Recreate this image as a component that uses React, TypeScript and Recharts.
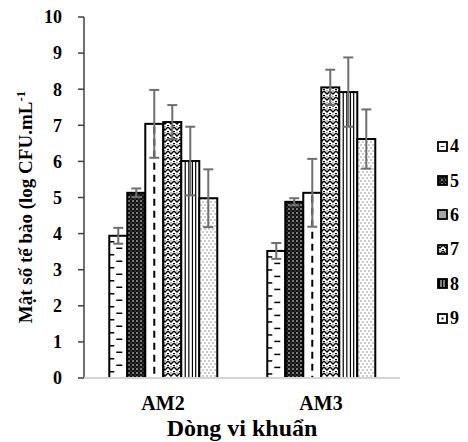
import { BarChart, Bar, XAxis, YAxis, ErrorBar } from 'recharts'

const CATEGORIES = ['AM2', 'AM3']
const SERIES = ['4', '5', '6', '7', '8', '9']

// mean log CFU/mL per series, one value per category
const MEAN_4 = [3.94, 3.52]
const MEAN_5 = [5.13, 4.88]
const MEAN_6 = [7.04, 5.13]
const MEAN_7 = [7.09, 8.05]
const MEAN_8 = [6.01, 7.92]
const MEAN_9 = [4.98, 6.62]

// standard deviation (error bars)
const ERR_4 = [0.22, 0.22]
const ERR_5 = [0.12, 0.1]
const ERR_6 = [0.94, 0.94]
const ERR_7 = [0.47, 0.49]
const ERR_8 = [0.95, 0.96]
const ERR_9 = [0.8, 0.82]

const Y_TICKS = [0, 1, 2, 3, 4, 5, 6, 7, 8, 9, 10]

const MEANS = [MEAN_4, MEAN_5, MEAN_6, MEAN_7, MEAN_8, MEAN_9]
const ERRS = [ERR_4, ERR_5, ERR_6, ERR_7, ERR_8, ERR_9]

const data = CATEGORIES.map((name, i) => {
  const row: Record<string, string | number> = { name }
  SERIES.forEach((s, k) => {
    row['v' + s] = MEANS[k][i]
    row['e' + s] = ERRS[k][i]
  })
  return row
})

const FONT = '"Liberation Serif", "Times New Roman", serif'
const ERR_COLOR = '#6f6f6f'

function PatternBar(props: any) {
  const { x, y, width, height, kind } = props
  if (!height || height <= 0) return null
  const extras: JSX.Element[] = []
  let fill = '#fff'

  if (kind === '4') {
    // brick-like short dashes
    for (let yy = y + 6; yy < y + height - 2; yy += 13) {
      extras.push(<line key={'a' + yy} x1={x} x2={x + 5} y1={yy} y2={yy} stroke="#000" strokeWidth={1.5} />)
      if (yy + 6.5 < y + height - 2) {
        extras.push(<line key={'b' + yy} x1={x + 7} x2={x + 13} y1={yy + 6.5} y2={yy + 6.5} stroke="#000" strokeWidth={1.5} />)
      }
    }
  } else if (kind === '5') {
    fill = 'url(#pat5)'
  } else if (kind === '6') {
    extras.push(
      <line key="c" x1={x + width / 2} x2={x + width / 2} y1={y + 3} y2={y + height} stroke="#000" strokeWidth={2} strokeDasharray="7 5" />
    )
  } else if (kind === '7') {
    fill = 'url(#pat7)'
  } else if (kind === '8') {
    ;[0.22, 0.42, 0.62, 0.8].forEach((f) => {
      extras.push(<line key={'v' + f} x1={x + width * f} x2={x + width * f} y1={y} y2={y + height} stroke="#000" strokeWidth={1.2} />)
    })
  } else if (kind === '9') {
    fill = 'url(#pat9)'
  }

  return (
    <g>
      <rect x={x} y={y} width={width} height={height} fill={fill} />
      {extras}
      <rect x={x} y={y} width={width} height={height} fill="none" stroke="#000" strokeWidth={2} />
    </g>
  )
}

function LegendIcon({ kind }: { kind: string }) {
  let inner: JSX.Element | null = null
  let fill = '#fff'
  if (kind === '5') fill = 'url(#pat5)'
  if (kind === '6') fill = '#a6a6a6'
  if (kind === '7') fill = 'url(#pat7)'
  if (kind === '8') {
    fill = '#000'
    inner = (
      <g stroke="#fff" strokeWidth={1}>
        <line x1={4} x2={4} y1={2} y2={9} />
        <line x1={7} x2={7} y1={2} y2={9} />
      </g>
    )
  }
  if (kind === '9') inner = <rect x={4.5} y={4.5} width={2} height={2} fill="#000" />
  if (kind === '4') inner = <line x1={3.5} x2={7.5} y1={5.5} y2={5.5} stroke="#000" strokeWidth={0.8} />
  return (
    <svg width={11} height={11} style={{ display: 'block' }}>
      <rect x={1} y={1} width={9} height={9} fill={fill} stroke="#000" strokeWidth={1.8} />
      {inner}
    </svg>
  )
}

function YLabel() {
  return (
    <text
      x={32}
      y={207}
      transform="rotate(-90 32 207)"
      textAnchor="middle"
      fontFamily={FONT}
      fontWeight="bold"
      fontSize={19}
      fill="#000"
    >
      Mật số tế bào (log CFU.mL<tspan dy={-7} fontSize={13}>-1</tspan>
    </text>
  )
}

function XLabel() {
  return (
    <text x={242} y={436} textAnchor="middle" fontFamily={FONT} fontWeight="bold" fontSize={24} fill="#000">
      Dòng vi khuẩn
    </text>
  )
}

export default function App() {
  return (
    <div style={{ position: 'absolute', left: 0, top: 0, width: 468, height: 442, background: '#fff' }}>
      <BarChart
        width={468}
        height={442}
        data={data}
        margin={{ top: 17, right: 68, bottom: 0, left: 0 }}
        barCategoryGap="16%"
        barGap={0}
      >
        <defs>
          <pattern id="pat5" width={4} height={4} patternUnits="userSpaceOnUse">
            <rect width={4} height={4} fill="#111" />
            <circle cx={1} cy={1} r={0.8} fill="#fff" />
            <circle cx={3} cy={3} r={0.5} fill="#999" />
          </pattern>
          <pattern id="pat7" width={6} height={6} patternUnits="userSpaceOnUse">
            <rect width={6} height={6} fill="#fff" />
            <path d="M0,1 L3,4 L6,1" fill="none" stroke="#000" strokeWidth={1.4} />
            <path d="M0,5 L1.5,6.5 M4.5,6.5 L6,5" fill="none" stroke="#000" strokeWidth={1} />
            <circle cx={3} cy={0.8} r={0.6} fill="#000" />
          </pattern>
          <pattern id="pat9" width={4} height={6} patternUnits="userSpaceOnUse">
            <rect width={4} height={6} fill="#fff" />
            <rect x={0.5} y={0.5} width={1} height={1} fill="#333" />
            <rect x={2.5} y={3.5} width={1} height={1} fill="#333" />
          </pattern>
        </defs>
        <YAxis
          width={84}
          domain={[0, 10]}
          ticks={Y_TICKS}
          interval={0}
          axisLine={{ stroke: '#404040', strokeWidth: 1.5 }}
          tickLine={{ stroke: '#404040', strokeWidth: 1.5 }}
          tickSize={6}
          tickMargin={16}
          tick={{ fill: '#000', fontSize: 18, fontWeight: 'bold', fontFamily: FONT }}
          label={<YLabel />}
        />
        <XAxis
          dataKey="name"
          height={64}
          axisLine={{ stroke: '#d4d4d4', strokeWidth: 2 }}
          tickLine={false}
          tickMargin={12}
          tick={{ fill: '#000', fontSize: 20, fontWeight: 'bold', fontFamily: FONT }}
          label={<XLabel />}
        />
        {SERIES.map((s) => (
          <Bar
            key={s}
            dataKey={'v' + s}
            name={s}
            isAnimationActive={false}
            shape={(p: any) => <PatternBar {...p} kind={s} />}
          >
            <ErrorBar dataKey={'e' + s} width={5} stroke={ERR_COLOR} strokeWidth={2} direction="y" />
          </Bar>
        ))}
      </BarChart>
      <div style={{ position: 'absolute', left: 437, top: 129 }}>
        {SERIES.map((s) => (
          <div key={s} style={{ display: 'flex', alignItems: 'center', height: 34.4 }}>
            <LegendIcon kind={s} />
            <span style={{ marginLeft: 2, fontFamily: FONT, fontWeight: 'bold', fontSize: 18, lineHeight: 1 }}>{s}</span>
          </div>
        ))}
      </div>
    </div>
  )
}
